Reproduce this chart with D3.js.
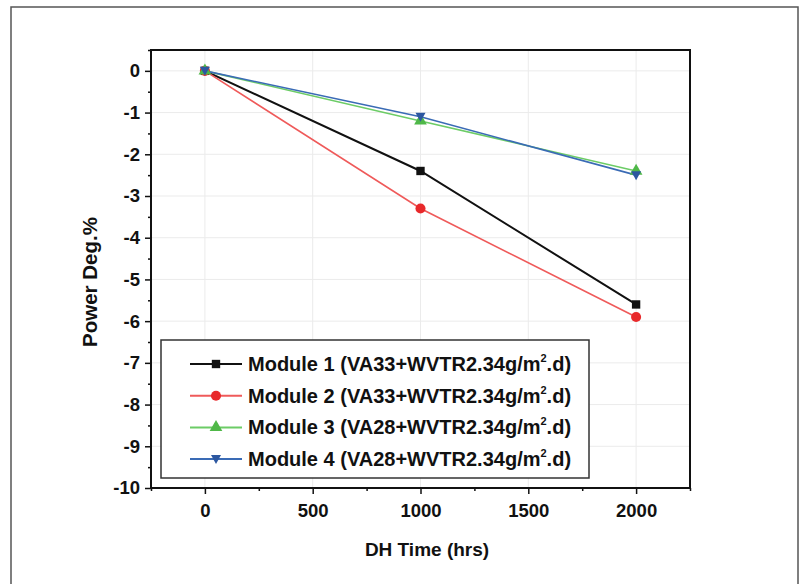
<!DOCTYPE html>
<html><head><meta charset="utf-8">
<script src="https://cdn.jsdelivr.net/npm/d3@7"></script>
<style>
body{margin:0;background:#fff;}
text{font-family:"Liberation Sans",Arial,sans-serif;font-weight:bold;fill:#111;}
</style></head>
<body><svg id="c" width="805" height="584"></svg>
<script>
const hours = [0, 1000, 2000];
const module1 = [0, -2.4, -5.6];
const module2 = [0, -3.3, -5.9];
const module3 = [0, -1.2, -2.4];
const module4 = [0, -1.1, -2.5];
const seriesNames = ["Module 1 (VA33+WVTR2.34g/m", "Module 2 (VA33+WVTR2.34g/m", "Module 3 (VA28+WVTR2.34g/m", "Module 4 (VA28+WVTR2.34g/m"];
const xTicks = [0, 500, 1000, 1500, 2000];
const yTicks = [0, -1, -2, -3, -4, -5, -6, -7, -8, -9, -10];

const series = [
  {name: seriesNames[0], values: module1, color: "#111111", line: "#111111", shape: d3.symbolSquare, size: 70},
  {name: seriesNames[1], values: module2, color: "#e8292b", line: "#ef5a5a", shape: d3.symbolCircle, size: 80},
  {name: seriesNames[2], values: module3, color: "#4fb848", line: "#6ccc66", shape: d3.symbolTriangle, size: 70},
  {name: seriesNames[3], values: module4, color: "#2c57a0", line: "#3a6bb5", shape: "down", size: 70}
];

const svg = d3.select("#c");
svg.append("rect").attr("x", 11).attr("y", 7).attr("width", 787).attr("height", 600)
  .attr("fill", "none").attr("stroke", "#555").attr("stroke-width", 1.5);

const L = 151, T = 50, W = 539, H = 438;
const x = d3.scaleLinear().domain([-250, 2250]).range([L, L + W]);
const y = d3.scaleLinear().domain([-10, 0.5]).range([T + H, T]);

// grid
const g = svg.append("g");
g.selectAll(".gx").data(xTicks).join("line")
  .attr("x1", d => x(d)).attr("x2", d => x(d)).attr("y1", T).attr("y2", T + H)
  .attr("stroke", "#ebebeb").attr("stroke-width", 1);
g.selectAll(".gy").data(yTicks).join("line")
  .attr("y1", d => y(d)).attr("y2", d => y(d)).attr("x1", L).attr("x2", L + W)
  .attr("stroke", "#ebebeb").attr("stroke-width", 1);

// axes
const fmt = d => String(d);
const xMinor = d3.range(-250, 2251, 250).filter(v => !xTicks.includes(v));
const yMinor = d3.range(-9.5, 0.51, 1);
const xa = svg.append("g").attr("transform", `translate(0,${T + H})`)
  .call(d3.axisBottom(x).tickValues(xTicks).tickSize(6).tickPadding(10).tickFormat(fmt));
const xm = svg.append("g").attr("transform", `translate(0,${T + H})`)
  .call(d3.axisBottom(x).tickValues(xMinor).tickSize(3).tickFormat(""));
const ya = svg.append("g").attr("transform", `translate(${L},0)`)
  .call(d3.axisLeft(y).tickValues(yTicks).tickSize(6).tickPadding(5).tickFormat(fmt));
const ym = svg.append("g").attr("transform", `translate(${L},0)`)
  .call(d3.axisLeft(y).tickValues(yMinor).tickSize(3).tickFormat(""));
[xa, xm, ya, ym].forEach(a => {
  a.select(".domain").remove();
  a.selectAll(".tick line").attr("stroke", "#111").attr("stroke-width", 1.5);
  a.selectAll("text").style("font-size", "18.5px").attr("fill", "#111");
});

// frame
svg.append("rect").attr("x", L).attr("y", T).attr("width", W).attr("height", H)
  .attr("fill", "none").attr("stroke", "#111").attr("stroke-width", 2);

// lines
const line = d3.line().x((d, i) => x(hours[i])).y(d => y(d));
function sym(s) {
  if (s.shape === "down") return "M0,5 L-5,-4 L5,-4 Z";
  return d3.symbol().type(s.shape).size(s.size)();
}
series.forEach(s => {
  svg.append("path").datum(s.values).attr("d", line).attr("fill", "none")
    .attr("stroke", s.line).attr("stroke-width", s.color === "#111111" ? 2 : 1.6);
});
series.forEach(s => {
  svg.selectAll(null).data(s.values).join("path")
    .attr("transform", (d, i) => `translate(${x(hours[i])},${y(d)})`)
    .attr("d", sym(s)).attr("fill", s.color);
});

// legend
const lg = svg.append("g");
lg.append("rect").attr("x", 161).attr("y", 340).attr("width", 428).attr("height", 138)
  .attr("fill", "#fff").attr("stroke", "#333").attr("stroke-width", 1.5);
series.forEach((s, i) => {
  const yy = 364 + i * 31.7;
  lg.append("line").attr("x1", 190).attr("x2", 242).attr("y1", yy).attr("y2", yy)
    .attr("stroke", s.line).attr("stroke-width", 2);
  lg.append("path").attr("transform", `translate(216,${yy})`).attr("d", sym(s)).attr("fill", s.color);
  const t = lg.append("text").attr("x", 248).attr("y", yy + 7).style("font-size", "20px");
  t.append("tspan").text(s.name);
  t.append("tspan").text("2").attr("dy", -9).style("font-size", "11px");
  t.append("tspan").text(".d)").attr("dy", 9);
});

// titles
svg.append("text").attr("x", 427).attr("y", 556).attr("text-anchor", "middle")
  .style("font-size", "19px").text("DH Time (hrs)");
svg.append("text").attr("transform", "translate(97,282) rotate(-90)").attr("text-anchor", "middle")
  .style("font-size", "20.5px").text("Power Deg.%");
</script></body></html>
